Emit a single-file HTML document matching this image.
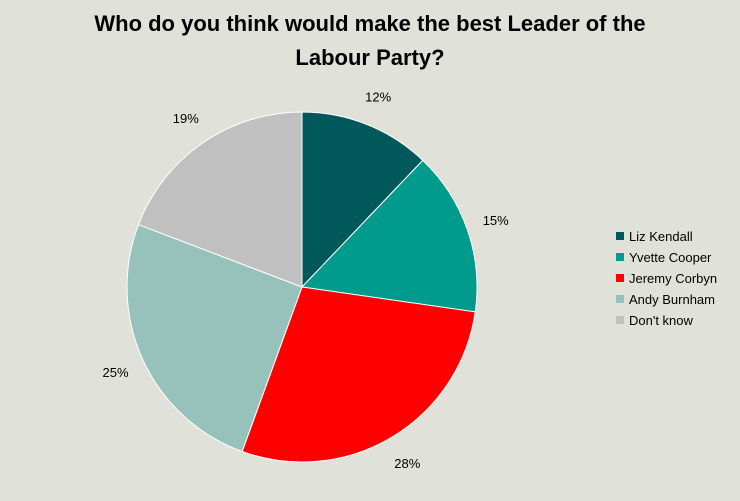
<!DOCTYPE html>
<html><head><meta charset="utf-8"><style>
body{margin:0;background:#e0e1d9;}
svg{display:block;font-family:"Liberation Sans",sans-serif;}
</style></head><body>
<svg width="740" height="501">
<rect width="740" height="501" fill="#e0e1d9"/>
<text x="370" y="31" text-anchor="middle" font-size="22" font-weight="bold" fill="#000">Who do you think would make the best Leader of the</text>
<text x="370" y="65" text-anchor="middle" font-size="22" font-weight="bold" fill="#000">Labour Party?</text>
<g id="slices"></g>
<g id="labels"></g>
<g id="legend"></g>
</svg>
<script>
const categories=["Liz Kendall","Yvette Cooper","Jeremy Corbyn","Andy Burnham","Don't know"];
const values=[12,15,28,25,19];
const valueLabels=["12%","15%","28%","25%","19%"];
const colors=["#00585a","#009b8c","#ff0000","#97c2bb","#c0c0c0"];
const cx=302,cy=287,R=175,LR=205;
const NS="http://www.w3.org/2000/svg";
const total=values.reduce((a,b)=>a+b,0);
const pt=(a,r)=>[cx+r*Math.sin(a),cy-r*Math.cos(a)];
let acc=0;
const sg=document.getElementById('slices'),lg=document.getElementById('labels'),leg=document.getElementById('legend');
values.forEach((v,i)=>{
 const a0=acc/total*2*Math.PI;acc+=v;const a1=acc/total*2*Math.PI;
 const p0=pt(a0,R),p1=pt(a1,R);
 const p=document.createElementNS(NS,'path');
 p.setAttribute('d',`M${cx},${cy}L${p0[0]},${p0[1]}A${R},${R} 0 ${a1-a0>Math.PI?1:0} 1 ${p1[0]},${p1[1]}Z`);
 p.setAttribute('fill',colors[i]);p.setAttribute('stroke','#fff');p.setAttribute('stroke-width','1');
 
 
 sg.appendChild(p);
 const m=pt((a0+a1)/2,LR);
 const t=document.createElementNS(NS,'text');
 t.setAttribute('x',m[0]);t.setAttribute('y',m[1]+5);t.setAttribute('text-anchor','middle');
 t.setAttribute('font-size','13');t.textContent=valueLabels[i];
 
 
 lg.appendChild(t);
 const y=236+i*21;
 const r=document.createElementNS(NS,'rect');
 r.setAttribute('x',616);r.setAttribute('y',y-4);r.setAttribute('width',8);r.setAttribute('height',8);r.setAttribute('fill',colors[i]);
 
 
 leg.appendChild(r);
 const lt=document.createElementNS(NS,'text');
 lt.setAttribute('x',629);lt.setAttribute('y',y+5);lt.setAttribute('font-size','13');lt.textContent=categories[i];
 
 
 leg.appendChild(lt);
});
</script>
</body></html>
